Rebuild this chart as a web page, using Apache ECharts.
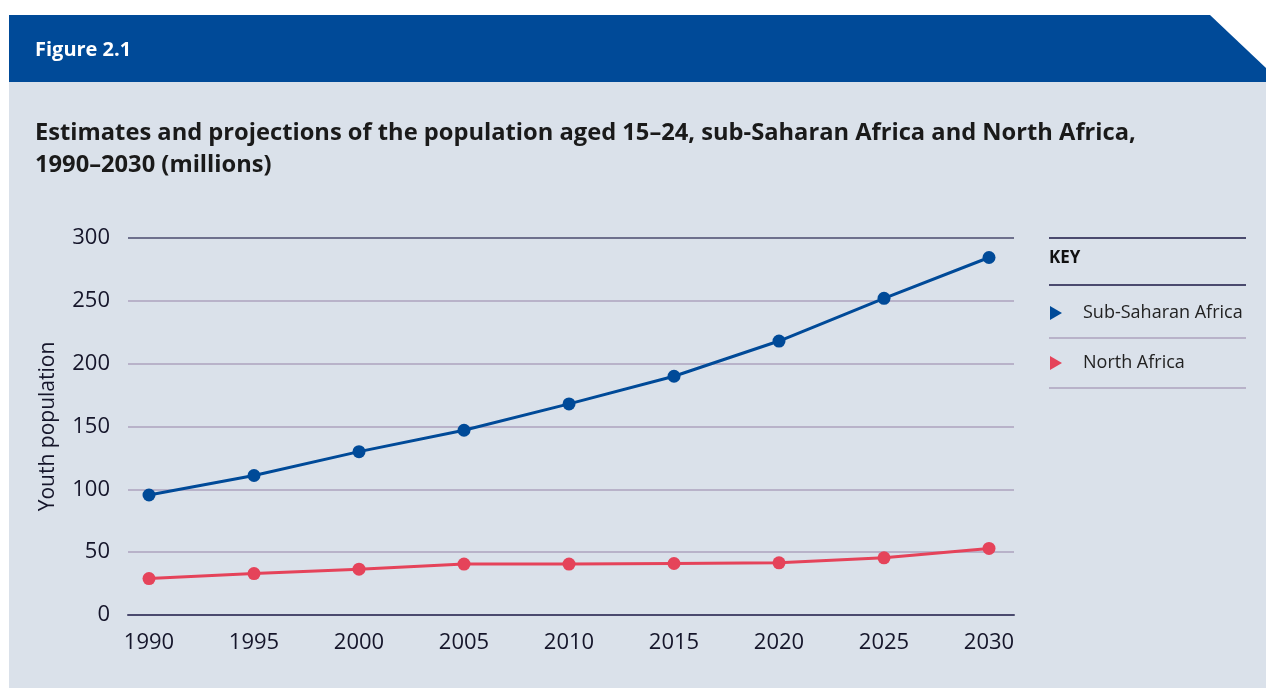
<!DOCTYPE html>
<html><head><meta charset="utf-8">
<script src="https://cdn.jsdelivr.net/npm/echarts@6/dist/echarts.min.js"></script>
<style>html,body{margin:0;padding:0;background:#fff;}#c{width:1266px;height:688px;}</style>
</head><body><div id="c"></div>
<script>
const years = [1990,1995,2000,2005,2010,2015,2020,2025,2030];
const yTicks = [0,50,100,150,200,250,300];
const subSaharan = [95.5,111,130,147,168,190,218,252,284.5];
const northAfrica = [29,33,36.5,40.5,40.5,41,41.5,45.5,53];
const seriesNames = ['Sub-Saharan Africa','North Africa'];
const colors = ['#004A98','#E5435A'];
const FONT = '"Open Sans", "Noto Sans", sans-serif';
const dark = '#4A4A6E', light = '#ADA2BE';

const chart = echarts.init(document.getElementById('c'), null, {renderer:'canvas'});
chart.setOption({
  animation:false,
  textStyle:{fontFamily:FONT},
  graphic:[
    {type:'rect', z:-10, shape:{x:9,y:82,width:1257,height:606}, style:{fill:'#DAE1EA'}},
    {type:'polygon', z:-10, shape:{points:[[9,15],[1210,15],[1266,68],[1266,82],[9,82]]}, style:{fill:'#004A98'}},
    {type:'line', shape:{x1:1049,y1:238,x2:1246,y2:238}, style:{stroke:dark,lineWidth:2}},
    {type:'line', shape:{x1:1049,y1:285,x2:1246,y2:285}, style:{stroke:dark,lineWidth:2}},
    {type:'line', shape:{x1:1049,y1:338,x2:1246,y2:338}, style:{stroke:light,lineWidth:1.5}},
    {type:'line', shape:{x1:1049,y1:388,x2:1246,y2:388}, style:{stroke:light,lineWidth:1.5}},
    {type:'text', left:1049, top:250, style:{text:'KEY', fill:'#111', font:'bold 17px '+FONT}}
  ],
  title:[
    {text:'Figure 2.1', left:30, top:35, textStyle:{color:'#fff', fontSize:20, fontWeight:'bold', fontFamily:FONT}},
    {text:'Estimates and projections of the population aged 15–24, sub-Saharan Africa and North Africa,\n1990–2030 (millions)',
     left:30, top:112, textStyle:{color:'#1a1a1a', fontSize:23.7, fontWeight:'bold', lineHeight:32, fontFamily:FONT}}
  ],
  legend:{
    orient:'vertical', left:1045, top:299, itemGap:32, itemWidth:14, itemHeight:14,
    data:seriesNames.map((n,i)=>({name:n, icon:'path://M0,0L12,7L0,14Z', itemStyle:{color:colors[i]}})),
    textStyle:{fontSize:18, color:'#222', fontFamily:FONT, padding:[0,0,0,15]}
  },
  grid:{left:128, right:252, top:238, bottom:73},
  xAxis:{
    type:'value', min:1989, max:2031.19,
    axisLine:{show:true, onZero:false, lineStyle:{color:dark, width:2}},
    axisTick:{show:false},
    splitLine:{show:false},
    axisLabel:{customValues:years, formatter:v=>String(v), fontSize:22, color:'#15152a', margin:17, fontFamily:FONT}
  },
  yAxis:{
    type:'value', min:0, max:300, interval:50,
    name:'Youth population', nameLocation:'middle', nameGap:69, nameRotate:90,
    nameTextStyle:{fontSize:21, color:'#15152a', fontFamily:FONT},
    axisLine:{show:false}, axisTick:{show:false},
    axisLabel:{fontSize:22, color:'#15152a', margin:18, fontFamily:FONT},
    splitLine:{lineStyle:{color:[light,light,light,light,light,light,dark], width:1.5}}
  },
  series:[
    {name:seriesNames[0], type:'line', data:years.map((y,i)=>[y,subSaharan[i]]), symbol:'circle', symbolSize:13,
     lineStyle:{color:colors[0], width:3}, itemStyle:{color:colors[0]}},
    {name:seriesNames[1], type:'line', data:years.map((y,i)=>[y,northAfrica[i]]), symbol:'circle', symbolSize:13,
     lineStyle:{color:colors[1], width:3}, itemStyle:{color:colors[1]}}
  ]
});
</script></body></html>
